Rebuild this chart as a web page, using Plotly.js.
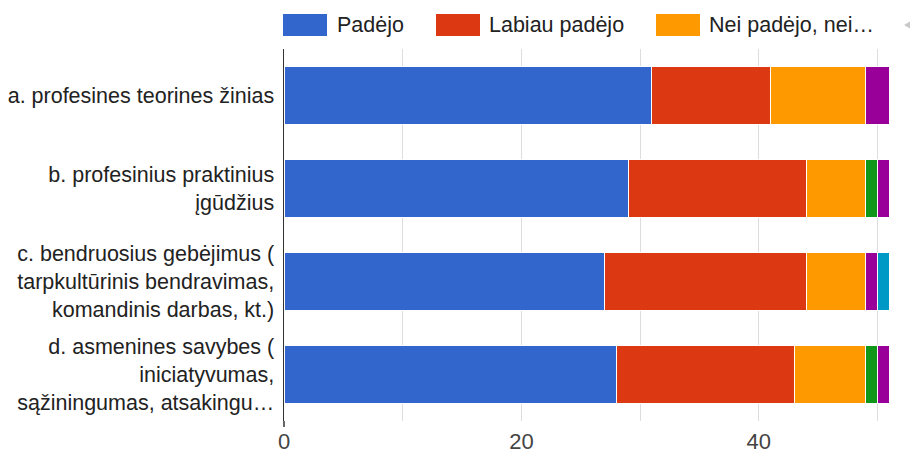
<!DOCTYPE html>
<html>
<head>
<meta charset="utf-8">
<script src="https://cdn.plot.ly/plotly-3.0.1.min.js"></script>
<style>html,body{margin:0;padding:0;background:#fff;}#chart{width:910px;height:453px;}</style>
</head>
<body>
<div id="chart"></div>
<script>
// Categories (top to bottom)
const categories = [
  "a. profesines teorines žinias",
  "b. profesinius praktinius<br>įgūdžius",
  "c. bendruosius gebėjimus (<br>tarpkultūrinis bendravimas,<br>komandinis darbas, kt.)",
  "d. asmenines savybes (<br>iniciatyvumas,<br>sąžiningumas, atsakingu…"
];

// Series names
const seriesNames = ["Padėjo", "Labiau padėjo", "Nei padėjo, nei nepadėjo", "Labiau nepadėjo", "Nepadėjo", "Nežinau"];
const legendLabels = ["Padėjo", "Labiau padėjo", "Nei padėjo, nei…"];
const seriesColors = ["#3366cc", "#dc3912", "#ff9900", "#109618", "#990099", "#0099c6"];

// Series values (per category a, b, c, d)
const padejo         = [31, 29, 27, 28];
const labiauPadejo   = [10, 15, 17, 15];
const neiNei         = [8, 5, 5, 6];
const labiauNepadejo = [0, 1, 0, 1];
const nepadejo       = [2, 1, 1, 1];
const nezinau        = [0, 0, 1, 0];

const seriesValues = [padejo, labiauPadejo, neiNei, labiauNepadejo, nepadejo, nezinau];

// X axis ticks
const xTickVals = [0, 20, 40];
const xTickText = ["0", "20", "40"];

const FONT = 'Arial, "Liberation Sans", sans-serif';

const traces = seriesValues.map((vals, i) => ({
  type: "bar",
  orientation: "h",
  name: seriesNames[i],
  x: vals,
  y: categories,
  marker: { color: seriesColors[i], line: { color: "#ffffff", width: 1 } },
  showlegend: false,
  hoverinfo: "x+name"
}));

// Custom legend (wide swatches like the reference)
const plotLeft = 284, plotWidth = 612, plotBottom = 421, plotHeight = 372;
const px2x = p => (p - plotLeft) / plotWidth;
const py2y = p => (plotBottom - p) / plotHeight;
const swatchLeft = [283, 436, 656];
const textLeft = [335, 487, 707];

const shapes = [];
const annotations = [];
legendLabels.forEach((lab, i) => {
  shapes.push({
    type: "rect", xref: "paper", yref: "paper",
    x0: px2x(swatchLeft[i]), x1: px2x(swatchLeft[i] + 44),
    y0: py2y(36), y1: py2y(14),
    fillcolor: seriesColors[i], line: { width: 0 }
  });
  annotations.push({
    xref: "paper", yref: "paper",
    x: px2x(textLeft[i]), y: py2y(25),
    xanchor: "left", yanchor: "middle",
    text: lab, showarrow: false,
    font: { family: FONT, size: 21.5, color: "#222222" }
  });
});
// pagination arrow (partially cut at right edge)
shapes.push({
  type: "path", xref: "paper", yref: "paper",
  path: `M ${px2x(904)},${py2y(25)} L ${px2x(914)},${py2y(19)} L ${px2x(914)},${py2y(31)} Z`,
  fillcolor: "#c8c8c8", line: { width: 0 }
});
// axis line extends slightly below the plot area like the reference
shapes.push({
  type: "line", xref: "paper", yref: "paper",
  x0: 0, x1: 0, y0: py2y(427), y1: py2y(421),
  line: { color: "#333333", width: 1.5 }
});

const layout = {
  width: 910,
  height: 453,
  margin: { l: plotLeft, r: 910 - plotLeft - plotWidth, t: 49, b: 453 - plotBottom },
  paper_bgcolor: "#ffffff",
  plot_bgcolor: "#ffffff",
  barmode: "stack",
  bargap: 0.366,
  showlegend: false,
  font: { family: FONT, size: 21.5, color: "#222222" },
  xaxis: {
    range: [0, plotWidth / 11.87],
    tickvals: xTickVals,
    ticktext: xTickText,
    showgrid: true,
    gridcolor: "#dddddd",
    gridwidth: 1,
    minor: { dtick: 10, tick0: 0, showgrid: true, gridcolor: "#dddddd", gridwidth: 1 },
    zeroline: false,
    showline: false,
    ticks: "",
    ticklabelstandoff: 5,
    tickfont: { family: FONT, size: 22, color: "#444444" },
    fixedrange: true
  },
  yaxis: {
    autorange: "reversed",
    showline: true,
    linecolor: "#333333",
    linewidth: 1.5,
    showgrid: false,
    zeroline: false,
    ticks: "",
    ticklabelstandoff: 4,
    tickfont: { family: FONT, size: 21.5, color: "#222222" },
    fixedrange: true
  },
  shapes: shapes,
  annotations: annotations
};

Plotly.newPlot("chart", traces, layout, { displayModeBar: false, staticPlot: true });
</script>
</body>
</html>
